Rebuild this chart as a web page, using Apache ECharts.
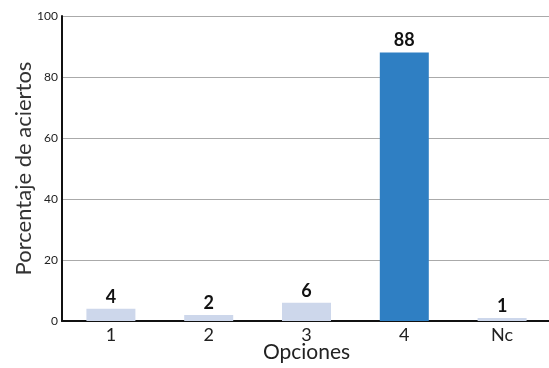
<!DOCTYPE html>
<html><head><meta charset="utf-8">
<script src="https://cdn.jsdelivr.net/npm/echarts@6/dist/echarts.min.js"></script>
<style>html,body{margin:0;padding:0;background:#fff}#c{width:549px;height:368px}</style>
</head><body><div id="c"></div>
<script>
const categories = ['1', '2', '3', '4', 'Nc'];
const values = [4, 2, 6, 88, 1];
const yTicks = [0, 20, 40, 60, 80, 100];
const highlightIndex = 3;

const chart = echarts.init(document.getElementById('c'), null, {renderer: 'canvas'});
const font = 'Lato, "Noto Sans", sans-serif';
chart.setOption({
  animation: false,
  grid: {left: 62, right: -2, top: 16, bottom: 47, containLabel: false, outerBoundsMode: 'none'},
  xAxis: {
    type: 'category', data: categories,
    name: 'Opciones', nameLocation: 'middle', nameGap: 21, nameMoveOverlap: false,
    nameTextStyle: {fontFamily: font, fontSize: 21, color: '#222'},
    axisLine: {lineStyle: {color: '#111', width: 2}},
    axisTick: {show: false},
    axisLabel: {fontFamily: font, fontSize: 18, color: '#222', margin: 5}
  },
  yAxis: {
    type: 'value', min: yTicks[0], max: yTicks[yTicks.length - 1], interval: 20,
    name: 'Porcentaje de aciertos', nameLocation: 'middle', nameGap: 27, nameMoveOverlap: false,
    nameTextStyle: {fontFamily: font, fontSize: 22, color: '#333'},
    axisLine: {show: true, lineStyle: {color: '#111', width: 2}},
    axisTick: {show: false},
    axisLabel: {fontFamily: font, fontSize: 12, color: '#222', margin: 4},
    splitLine: {lineStyle: {color: '#aaaaaa', width: 1}}
  },
  series: [{
    type: 'bar', barWidth: 49,
    data: values.map((v, i) => ({value: v, itemStyle: {color: i === highlightIndex ? '#2f7fc3' : '#cdd7eb'}})),
    label: {show: true, position: 'top', distance: 3, fontFamily: font, fontSize: 18, fontWeight: 'bold', color: '#111'}
  }]
});
</script></body></html>
